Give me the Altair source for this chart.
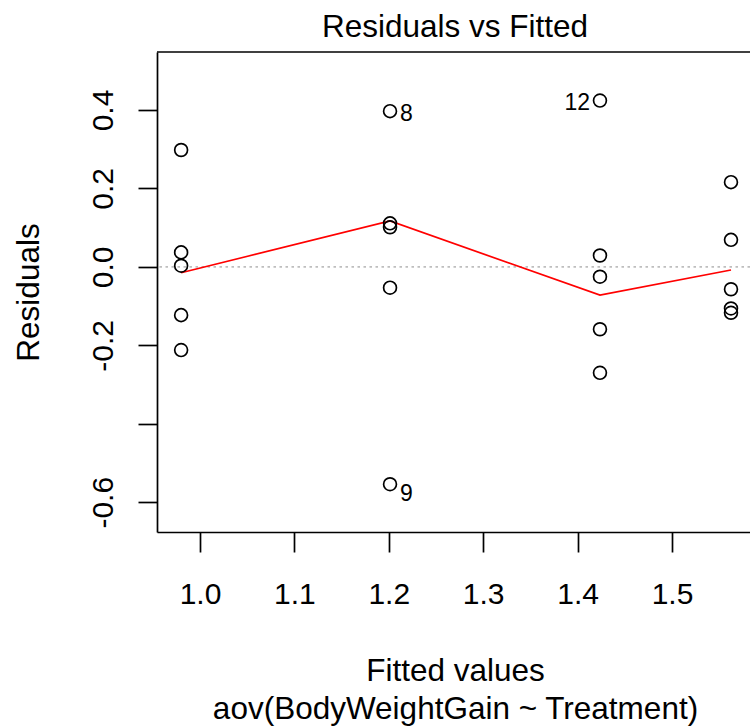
import altair as alt
import pandas as pd

# Fitted value of each treatment group (one-way ANOVA model)
fitted_levels = [0.98, 1.2013, 1.4237, 1.5625]

# Residuals per group, in observation order (obs 1-5, 6-10, 11-15, 16-20)
resid_g1 = [0.298, 0.037, 0.003, -0.123, -0.212]
resid_g2 = [0.111, 0.101, 0.397, -0.554, -0.053]
resid_g3 = [-0.025, 0.424, 0.029, -0.159, -0.270]
resid_g4 = [0.216, 0.069, -0.057, -0.106, -0.117]

# Smoother through the residuals, evaluated at each fitted level
smooth_values = [-0.015, 0.117, -0.072, -0.008]

x_ticks = [1.0, 1.1, 1.2, 1.3, 1.4, 1.5]
y_ticks = [-0.6, -0.4, -0.2, 0.0, 0.2, 0.4]

main_title = "Residuals vs Fitted"

FONT = "Liberation Sans, Arial, Helvetica, sans-serif"
TITLE_SIZE = 31.5
W, H = 593, 480
X_DOMAIN = [0.95445, 1.58263]
Y_DOMAIN = [-0.6758, 0.5478]

# ---- assemble tables -------------------------------------------------------
rows = []
obs = 1
for fv, grp in zip(fitted_levels, [resid_g1, resid_g2, resid_g3, resid_g4]):
    for r in grp:
        rows.append({"fitted": fv, "resid": r, "obs": obs})
        obs += 1
points = pd.DataFrame(rows)

# label the three largest absolute residuals, as plot.lm does
labelled = points.reindex(points["resid"].abs().sort_values(ascending=False).index[:3]).copy()
mid_x = (points["fitted"].min() + points["fitted"].max()) / 2
labelled["side"] = ["left" if f > mid_x else "right" for f in labelled["fitted"]]
neg_label_drop = 0.019  # negative residual labels sit a little lower
labelled["label_y"] = [r - neg_label_drop if r < 0 else r for r in labelled["resid"]]
labelled["text"] = labelled["obs"].astype(str)

smooth = pd.DataFrame({"fitted": fitted_levels, "resid": smooth_values})
zero = pd.DataFrame({"resid": [0.0]})
title_df = pd.DataFrame({"title": [main_title]})

# ---- scales & axes ---------------------------------------------------------
x_scale = alt.Scale(domain=X_DOMAIN, nice=False, zero=False)
y_scale = alt.Scale(domain=Y_DOMAIN, nice=False, zero=False)

x_axis = alt.Axis(
    values=x_ticks,
    format=".1f",
    grid=False,
    domain=True, domainColor="black", domainWidth=1.7,
    ticks=True, tickColor="black", tickWidth=1.7, tickSize=20,
    labelFont=FONT, labelFontSize=30, labelColor="black",
    labelBaseline="alphabetic", labelPadding=51,
    labelFlush=False, labelOverlap=False,
    title=["Fitted values", "aov(BodyWeightGain ~ Treatment)"],
    titleFont=FONT, titleFontSize=TITLE_SIZE, titleFontWeight="normal", titleColor="black",
    titleBaseline="alphabetic", titleAlign="center", titleAngle=0,
    titleX=298, titleY=148, titleLineHeight=38,
)

y_axis = alt.Axis(
    values=y_ticks,
    labelExpr="abs(datum.value + 0.4) < 1e-9 ? '' : "
              "(datum.value < 0 ? '-' + format(-datum.value, '.1f') : format(datum.value, '.1f'))",
    grid=False,
    domain=True, domainColor="black", domainWidth=1.7,
    ticks=True, tickColor="black", tickWidth=1.7, tickSize=19,
    labelFont=FONT, labelFontSize=30, labelColor="black",
    labelAngle=270, labelAlign="center", labelBaseline="alphabetic", labelPadding=26,
    labelFlush=False, labelOverlap=False,
    title="Residuals",
    titleFont=FONT, titleFontSize=TITLE_SIZE, titleFontWeight="normal", titleColor="black",
    titleAngle=270, titleAlign="center", titleBaseline="alphabetic",
    titleX=-119, titleY=240,
)

X = alt.X("fitted:Q", scale=x_scale, axis=x_axis)
Y = alt.Y("resid:Q", scale=y_scale, axis=y_axis)

# ---- layers ----------------------------------------------------------------
zero_line = alt.Chart(zero).mark_rule(
    color="#bebebe", strokeWidth=1.7, strokeDash=[2.5, 3.5]
).encode(y=Y)

top_border = alt.Chart(zero).mark_rule(color="black", strokeWidth=1.7).encode(
    x=alt.value(0), x2=alt.value(W), y=alt.value(0)
)

heading = alt.Chart(title_df).mark_text(
    align="center", baseline="alphabetic",
    font=FONT, fontSize=TITLE_SIZE, color="black"
).encode(x=alt.value(298), y=alt.value(-15), text="title:N")

smooth_line = alt.Chart(smooth).mark_line(color="red", strokeWidth=1.7).encode(x=X, y=Y)

pts = alt.Chart(points).mark_point(
    shape="circle", filled=False, color="black", size=165, strokeWidth=1.7, opacity=1
).encode(x=X, y=Y)

label_y = alt.Y("label_y:Q", scale=y_scale, axis=y_axis)

labels_right = alt.Chart(labelled).transform_filter(
    alt.datum.side == "right"
).mark_text(
    align="left", baseline="alphabetic", dx=10, dy=9.5,
    font=FONT, fontSize=23, color="black"
).encode(x=X, y=label_y, text="text:N")

labels_left = alt.Chart(labelled).transform_filter(
    alt.datum.side == "left"
).mark_text(
    align="right", baseline="alphabetic", dx=-10, dy=9.5,
    font=FONT, fontSize=23, color="black"
).encode(x=X, y=label_y, text="text:N")

chart = alt.layer(
    zero_line, smooth_line, pts, labels_right, labels_left, top_border, heading
).properties(
    width=W,
    height=H,
    autosize=alt.AutoSizeParams(type="none"),
    padding={"left": 157, "top": 52, "right": 0, "bottom": 195},
    background="white",
).configure_view(strokeWidth=0)

chart.save("out.html", embed_options={"renderer": "svg", "actions": False})
